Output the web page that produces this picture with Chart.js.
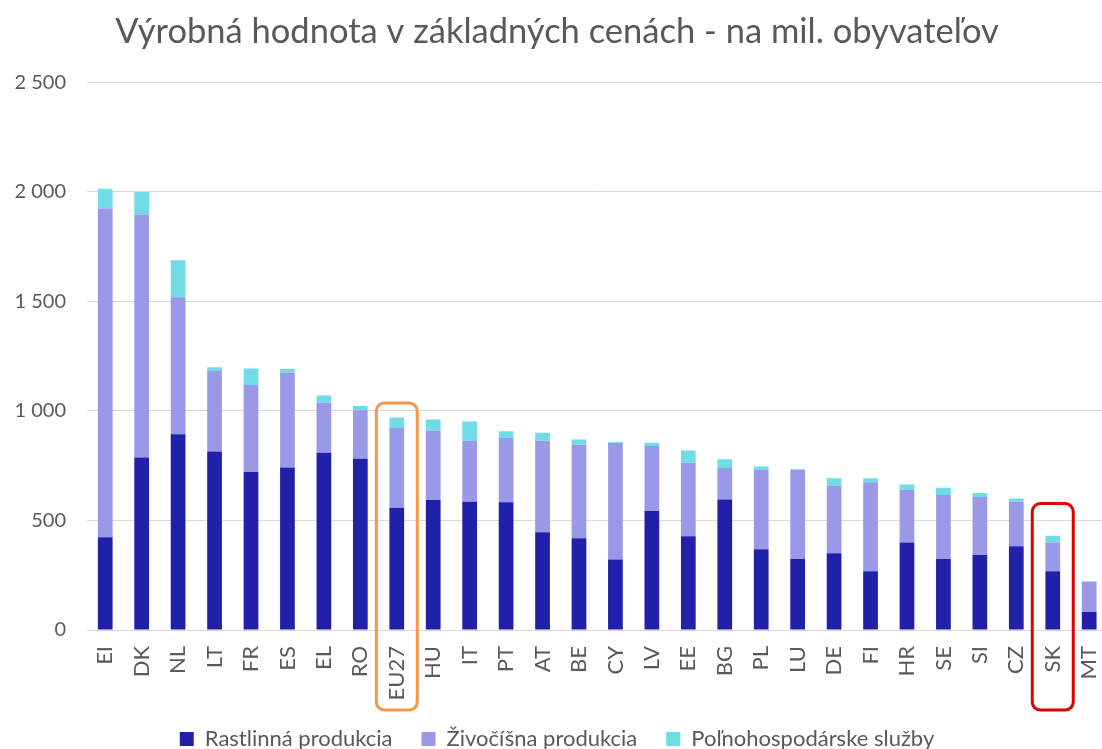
<!DOCTYPE html>
<html>
<head>
<meta charset="utf-8">
<script src="https://cdn.jsdelivr.net/npm/chart.js@4.4.1/dist/chart.umd.min.js"></script>
<style>
  html, body { margin: 0; padding: 0; background: #fff; overflow: hidden; }
  #wrap { width: 1132px; height: 760px; }
</style>
</head>
<body>
<div id="wrap"><canvas id="grafico"></canvas></div>
<script>
// krajiny
const krajiny = ['EI', 'DK', 'NL', 'LT', 'FR', 'ES', 'EL', 'RO', 'EU27', 'HU', 'IT', 'PT', 'AT', 'BE',
  'CY', 'LV', 'EE', 'BG', 'PL', 'LU', 'DE', 'FI', 'HR', 'SE', 'SI', 'CZ', 'SK', 'MT'];

// hodnoty (odhad z grafu)
const rastlinna = [424, 788, 894, 815, 721, 742, 809, 782, 558, 594, 585, 583, 446, 419,
  322, 543, 428, 596, 369, 324, 350, 268, 400, 324, 342, 382, 268, 82];
const zivocisna = [1500, 1109, 625, 367, 397, 434, 230, 221, 364, 316, 279, 293, 418, 427,
  533, 297, 336, 144, 362, 407, 309, 407, 240, 292, 265, 203, 132, 139];
const sluzby = [91, 103, 169, 18, 76, 15, 32, 20, 48, 51, 88, 31, 37, 24,
  3, 15, 55, 40, 15, 3, 34, 18, 24, 33, 18, 15, 30, 0];

const osY = [0, 500, 1000, 1500, 2000, 2500];

// ramceky okolo EU27 a SK
const ramceky = [
  { kategoria: 'EU27', hore: 1036, farba: '#F79646' },
  { kategoria: 'SK', hore: 577, farba: '#E00000' }
];

const sivy = '#595959';
const pismo = 'Lato, Carlito, "Liberation Sans", sans-serif';

const ramcekyPlugin = {
  id: 'ramceky',
  afterDatasetsDraw(chart) {
    const ctx = chart.ctx;
    const x = chart.scales.x;
    const y = chart.scales.y;
    ramceky.forEach(function (r) {
      const i = krajiny.indexOf(r.kategoria);
      const stred = x.getPixelForValue(i);
      const top = y.getPixelForValue(r.hore);
      const bottom = chart.chartArea.bottom + 80;
      ctx.save();
      ctx.strokeStyle = r.farba;
      ctx.lineWidth = 3;
      ctx.beginPath();
      ctx.roundRect(stred - 20.5, top, 41, bottom - top, 8);
      ctx.stroke();
      ctx.restore();
    });
  }
};

const ctx = document.getElementById('grafico');
new Chart(ctx, {
  type: 'bar',
  data: {
    labels: krajiny,
    datasets: [{
      label: 'Rastlinná produkcia',
      data: rastlinna,
      backgroundColor: '#2020A8'
    }, {
      label: 'Živočíšna produkcia',
      data: zivocisna,
      backgroundColor: '#9999E8'
    }, {
      label: 'Poľnohospodárske služby',
      data: sluzby,
      backgroundColor: '#6FDCE6'
    }]
  },
  options: {
    responsive: true,
    maintainAspectRatio: false,
    animation: false,
    categoryPercentage: 1,
    barPercentage: 0.404,
    layout: { padding: { left: 5, right: 23, top: 0, bottom: 0 } },
    plugins: {
      tooltip: { enabled: false },
      title: {
        display: true,
        text: 'Výrobná hodnota v základných cenách - na mil. obyvateľov',
        color: sivy,
        font: { family: pismo, size: 34.5, weight: 'normal' },
        padding: { top: 11, bottom: 30 }
      },
      legend: {
        position: 'bottom',
        labels: {
          color: sivy,
          font: { family: pismo, size: 22 },
          boxWidth: 14,
          boxHeight: 14,
          padding: 29
        }
      }
    },
    scales: {
      x: {
        stacked: true,
        grid: { display: false, drawTicks: false },
        border: { display: true, color: '#D9D9D9', width: 1 },
        afterFit: function (axis) { axis.height = 69; },
        ticks: {
          color: sivy,
          font: { family: pismo, size: 22 },
          autoSkip: false,
          minRotation: 90,
          maxRotation: 90,
          padding: 16
        }
      },
      y: {
        stacked: true,
        min: 0,
        max: 2500,
        afterBuildTicks: function (axis) {
          axis.ticks = osY.map(function (v) { return { value: v }; });
        },
        afterFit: function (axis) { axis.width = 82; },
        grid: { color: '#D9D9D9', lineWidth: 1, drawTicks: false },
        border: { display: false },
        ticks: {
          color: sivy,
          font: { family: pismo, size: 20 },
          padding: 21,
          callback: function (v) {
            return String(v).replace(/\B(?=(\d{3})+(?!\d))/g, ' ');
          }
        }
      }
    }
  },
  plugins: [ramcekyPlugin]
});
</script>
</body>
</html>
